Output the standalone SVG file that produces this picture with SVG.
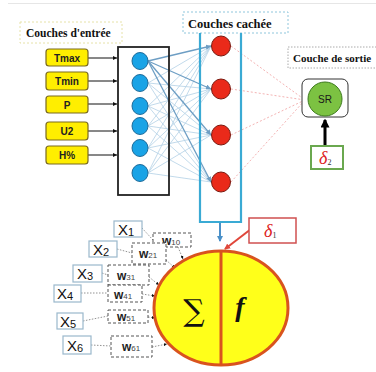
<svg xmlns="http://www.w3.org/2000/svg" width="376" height="372" viewBox="0 0 376 372">
  <style>
    .hdr { font-family: "Liberation Serif", "Times New Roman", serif; font-weight: bold; fill: #111; }
    .inbox rect { fill: #ffee00; stroke: #7a6a20; stroke-width: 1.2; }
    .inbox text { font-family: "Liberation Sans", Arial, sans-serif; font-weight: bold; font-size: 10px; fill: #222; text-anchor: middle; }
    .bn { fill: #19a3e6; stroke: #1d6b9a; stroke-width: 1; }
    .rn { fill: #ea2a1a; stroke: #7a1a10; stroke-width: 1; }
    .xbox rect { fill: #fff; stroke: #9ab8cc; stroke-width: 1.2; }
    .xbox text { font-family: "Liberation Sans", Arial, sans-serif; font-size: 15px; fill: #111; }
    .xs { font-size: 11px; }
    .wbox rect { fill: #fff; stroke: #555; stroke-width: 1; stroke-dasharray: 3 2; }
    .wbox text { font-family: "Liberation Sans", Arial, sans-serif; font-weight: bold; font-size: 12px; fill: #222; }
    .sub { font-size: 8px; font-weight: normal; fill: #444; }
    .dot { stroke: #777; stroke-width: 0.8; stroke-dasharray: 1.5 1.5; fill: none; }
    .hl { stroke: #b3d0e6; stroke-width: 0.8; fill: none; }
    .hd { stroke: #6d9ec4; stroke-width: 1.3; fill: none; }
    .ol { stroke: #f0a0a0; stroke-width: 0.8; stroke-dasharray: 2 2; fill: none; }
    .delta { font-family: "Liberation Serif", "Times New Roman", serif; font-style: italic; font-size: 18px; fill: #d22; }
  </style>
  <defs>
    <marker id="ab" viewBox="0 0 6 6" refX="6" refY="3" markerWidth="4" markerHeight="4" orient="auto">
      <path d="M0,0 L6,3 L0,6 z" fill="#111"/>
    </marker>
    <marker id="abl" viewBox="0 0 6 6" refX="6" refY="3" markerWidth="4" markerHeight="4" orient="auto">
      <path d="M0,0 L6,3 L0,6 z" fill="#6d9ec4"/>
    </marker>
    <marker id="ablue" viewBox="0 0 6 6" refX="5" refY="3" markerWidth="3" markerHeight="3" orient="auto">
      <path d="M0,0 L6,3 L0,6 z" fill="#4a90c8"/>
    </marker>
    <marker id="ared" viewBox="0 0 6 6" refX="5" refY="3" markerWidth="3" markerHeight="3" orient="auto">
      <path d="M0,0 L6,3 L0,6 z" fill="#e0463a"/>
    </marker>
    <marker id="ablk" viewBox="0 0 6 6" refX="5" refY="3" markerWidth="3" markerHeight="3" orient="auto">
      <path d="M0,0 L6,3 L0,6 z" fill="#000"/>
    </marker>
    <marker id="apink" viewBox="0 0 6 6" refX="6" refY="3" markerWidth="4" markerHeight="4" orient="auto">
      <path d="M0,0 L6,3 L0,6 z" fill="#e0463a"/>
    </marker>
  </defs>

  <rect width="376" height="372" fill="#fff"/>
  <line x1="8" y1="3.5" x2="376" y2="3.5" stroke="#e6e6e6" stroke-width="1"/>

  <!-- layer headings -->
  <g id="hdr-input">
    <rect x="20" y="22" width="102" height="21" fill="#fff" stroke="#e6e2a8" stroke-width="1" stroke-dasharray="2 2"/>
    <text class="hdr" x="26" y="36.5" font-size="11.5">Couches d'entrée</text>
  </g>
  <g id="hdr-hidden">
    <rect x="183" y="12" width="105" height="21" fill="#fff" stroke="#8fc6dc" stroke-width="1" stroke-dasharray="2 2"/>
    <text class="hdr" x="188" y="27.5" font-size="12.5">Couches cachée</text>
  </g>
  <g id="hdr-output">
    <rect x="288" y="47" width="90" height="21" fill="#fff" stroke="#aaa" stroke-width="1" stroke-dasharray="1.5 1.5"/>
    <text class="hdr" x="293" y="62" font-size="11">Couche de sortie</text>
  </g>

  <!-- connectors -->
  <g id="connectors">
    <!-- input variables into the input layer -->
    <line x1="88" y1="58" x2="117" y2="58" stroke="#111" stroke-width="1" marker-end="url(#ab)"/>
    <line x1="88" y1="81" x2="117" y2="81" stroke="#111" stroke-width="1" marker-end="url(#ab)"/>
    <line x1="88" y1="104" x2="117" y2="104" stroke="#111" stroke-width="1" marker-end="url(#ab)"/>
    <line x1="88" y1="131" x2="117" y2="131" stroke="#111" stroke-width="1" marker-end="url(#ab)"/>
    <line x1="88" y1="155" x2="117" y2="155" stroke="#111" stroke-width="1" marker-end="url(#ab)"/>

    <!-- input layer to hidden layer (full mesh) -->
    <g class="hl">
      <line x1="148" y1="83" x2="211" y2="46"/><line x1="148" y1="83" x2="211" y2="89"/><line x1="148" y1="83" x2="211" y2="135"/><line x1="148" y1="83" x2="211" y2="182"/>
      <line x1="148" y1="106" x2="211" y2="46"/><line x1="148" y1="106" x2="211" y2="89"/><line x1="148" y1="106" x2="211" y2="135"/><line x1="148" y1="106" x2="211" y2="182"/>
      <line x1="148" y1="126" x2="211" y2="46"/><line x1="148" y1="126" x2="211" y2="89"/><line x1="148" y1="126" x2="211" y2="135"/><line x1="148" y1="126" x2="211" y2="182"/>
      <line x1="148" y1="148" x2="211" y2="46"/><line x1="148" y1="148" x2="211" y2="89"/><line x1="148" y1="148" x2="211" y2="135"/><line x1="148" y1="148" x2="211" y2="182"/>
      <line x1="148" y1="173" x2="211" y2="46"/><line x1="148" y1="173" x2="211" y2="89"/><line x1="148" y1="173" x2="211" y2="135"/><line x1="148" y1="173" x2="211" y2="182"/>
    </g>
    <g class="hd">
      <line x1="148" y1="61" x2="211" y2="46" marker-end="url(#abl)"/>
      <line x1="148" y1="61" x2="211" y2="89" marker-end="url(#abl)"/>
      <line x1="148" y1="61" x2="211" y2="135" marker-end="url(#abl)"/>
      <line x1="148" y1="61" x2="211" y2="182" marker-end="url(#abl)"/>
    </g>

    <!-- hidden layer to output -->
    <g class="ol">
      <line x1="231" y1="46" x2="305" y2="100"/>
      <line x1="231" y1="89" x2="305" y2="100"/>
      <line x1="231" y1="135" x2="305" y2="100"/>
      <line x1="231" y1="182" x2="305" y2="100" marker-end="url(#apink)"/>
    </g>

    <!-- hidden layer into the neuron -->
    <line x1="220" y1="222" x2="220" y2="241" stroke="#4a90c8" stroke-width="2" marker-end="url(#ablue)"/>
    <!-- error delta 1 -->
    <line x1="251" y1="229" x2="225" y2="249" stroke="#e0463a" stroke-width="2" marker-end="url(#ared)"/>
    <!-- error delta 2 -->
    <line x1="325" y1="146" x2="325" y2="120" stroke="#000" stroke-width="3" marker-end="url(#ablk)"/>

    <!-- inputs to weights -->
    <polyline class="dot" points="142,228 153,240"/>
    <polyline class="dot" points="117,249 132,253"/>
    <polyline class="dot" points="102,273 108,275"/>
    <polyline class="dot" points="81,293 108,293"/>
    <polyline class="dot" points="83,321 108,316"/>
    <polyline class="dot" points="91,345 111,346"/>
    <!-- weights to summation -->
    <line class="dot" x1="178" y1="247" x2="183" y2="259" marker-end="url(#ab)"/>
    <line class="dot" x1="166" y1="260" x2="175" y2="268" marker-end="url(#ab)"/>
    <line class="dot" x1="149" y1="277" x2="159" y2="285" marker-end="url(#ab)"/>
    <line class="dot" x1="142" y1="294" x2="155" y2="296" marker-end="url(#ab)"/>
    <line class="dot" x1="148" y1="317" x2="155" y2="318" marker-end="url(#ab)"/>
    <line class="dot" x1="152" y1="347" x2="167" y2="344" marker-end="url(#ab)"/>
  </g>

  <!-- input variables -->
  <g id="in-tmax" class="inbox"><rect x="46" y="49" width="42" height="17" rx="3"/><text x="67" y="61.5">Tmax</text></g>
  <g id="in-tmin" class="inbox"><rect x="46" y="72" width="42" height="18" rx="3"/><text x="67" y="84.5">Tmin</text></g>
  <g id="in-p" class="inbox"><rect x="46" y="96" width="42" height="17" rx="3"/><text x="67" y="108.5">P</text></g>
  <g id="in-u2" class="inbox"><rect x="46" y="122" width="42" height="18" rx="3"/><text x="67" y="135">U2</text></g>
  <g id="in-h" class="inbox"><rect x="46" y="146" width="42" height="18" rx="3"/><text x="67" y="159">H%</text></g>

  <!-- input layer -->
  <g id="input-layer">
    <rect x="118" y="47" width="51" height="148" fill="none" stroke="#222" stroke-width="1.8"/>
    <ellipse class="bn" cx="140" cy="61" rx="8" ry="8.5"/>
    <ellipse class="bn" cx="140" cy="83" rx="8" ry="8.5"/>
    <ellipse class="bn" cx="140" cy="106" rx="8" ry="8.5"/>
    <ellipse class="bn" cx="140" cy="126" rx="8" ry="8.5"/>
    <ellipse class="bn" cx="140" cy="148" rx="8" ry="8.5"/>
    <ellipse class="bn" cx="140" cy="173" rx="8" ry="8.5"/>
  </g>

  <!-- hidden layer -->
  <g id="hidden-layer">
    <polyline points="200,33 200,222 241,222 241,33" fill="none" stroke="#3aaad4" stroke-width="2.2"/>
    <ellipse class="rn" cx="221" cy="46" rx="9.5" ry="10"/>
    <ellipse class="rn" cx="221" cy="89" rx="9.5" ry="10"/>
    <ellipse class="rn" cx="221" cy="135" rx="9.5" ry="10"/>
    <ellipse class="rn" cx="221" cy="182" rx="9.5" ry="10"/>
  </g>

  <!-- output neuron -->
  <g id="output-sr">
    <rect x="302" y="79" width="46" height="38" rx="6" fill="#fff" stroke="#333" stroke-width="1"/>
    <circle cx="325" cy="99" r="17" fill="#7cc242" stroke="#3d7a1e" stroke-width="1"/>
    <text x="325" y="103" font-family="'Liberation Sans', Arial, sans-serif" font-size="10" fill="#1a1a1a" text-anchor="middle">SR</text>
  </g>

  <g id="delta2">
    <rect x="311" y="146" width="32" height="23" fill="#fff" stroke="#6aa84f" stroke-width="2"/>
    <text class="delta" x="319" y="164">δ<tspan font-size="8" font-style="normal" fill="#333" dy="1">2</tspan></text>
  </g>

  <g id="delta1">
    <rect x="249" y="218" width="47" height="25" fill="#fff" stroke="#d05050" stroke-width="1.5"/>
    <text class="delta" x="264" y="237">δ<tspan font-size="8" font-style="normal" fill="#333" dy="1">1</tspan></text>
  </g>

  <!-- summation / activation neuron -->
  <g id="neuron">
    <ellipse cx="221" cy="308" rx="67" ry="57" fill="#ffff1a" stroke="#d9531e" stroke-width="3"/>
    <line x1="221" y1="251" x2="221" y2="365" stroke="#d9531e" stroke-width="3"/>
    <text x="194" y="321" font-family="'DejaVu Serif', serif" font-size="30" fill="#111" text-anchor="middle">∑</text>
    <text x="240" y="316" font-family="'Liberation Serif', 'Times New Roman', serif" font-style="italic" font-weight="bold" font-size="28" fill="#111" text-anchor="middle">f</text>
  </g>

  <!-- weighted inputs -->
  <g id="x1" class="xbox"><rect x="114" y="221" width="28" height="16"/><text x="118" y="234.5">X<tspan class="xs" dy="1">1</tspan></text></g>
  <g id="x2" class="xbox"><rect x="89" y="241" width="28" height="16"/><text x="93" y="254.5">X<tspan class="xs" dy="1">2</tspan></text></g>
  <g id="x3" class="xbox"><rect x="73" y="265" width="29" height="17"/><text x="77" y="279">X<tspan class="xs" dy="1">3</tspan></text></g>
  <g id="x4" class="xbox"><rect x="54" y="285" width="27" height="17"/><text x="57" y="299">X<tspan class="xs" dy="1">4</tspan></text></g>
  <g id="x5" class="xbox"><rect x="57" y="313" width="26" height="16"/><text x="60" y="327">X<tspan class="xs" dy="1">5</tspan></text></g>
  <g id="x6" class="xbox"><rect x="63" y="336" width="28" height="18"/><text x="67" y="350.5">X<tspan class="xs" dy="1">6</tspan></text></g>

  <g id="w10" class="wbox"><rect x="153" y="233" width="38" height="14"/><text x="162" y="244.5">w<tspan class="sub">10</tspan></text></g>
  <g id="w21" class="wbox"><rect x="132" y="243" width="34" height="21"/><text x="139" y="258">w<tspan class="sub">21</tspan></text></g>
  <g id="w31" class="wbox"><rect x="108" y="265" width="41" height="20"/><text x="117" y="280">w<tspan class="sub">31</tspan></text></g>
  <g id="w41" class="wbox"><rect x="108" y="285" width="34" height="17"/><text x="114" y="298.5">w<tspan class="sub">41</tspan></text></g>
  <g id="w51" class="wbox"><rect x="108" y="310" width="40" height="13"/><text x="117" y="321">w<tspan class="sub">51</tspan></text></g>
  <g id="w61" class="wbox"><rect x="111" y="336" width="41" height="21"/><text x="122" y="351">w<tspan class="sub">61</tspan></text></g>
</svg>
